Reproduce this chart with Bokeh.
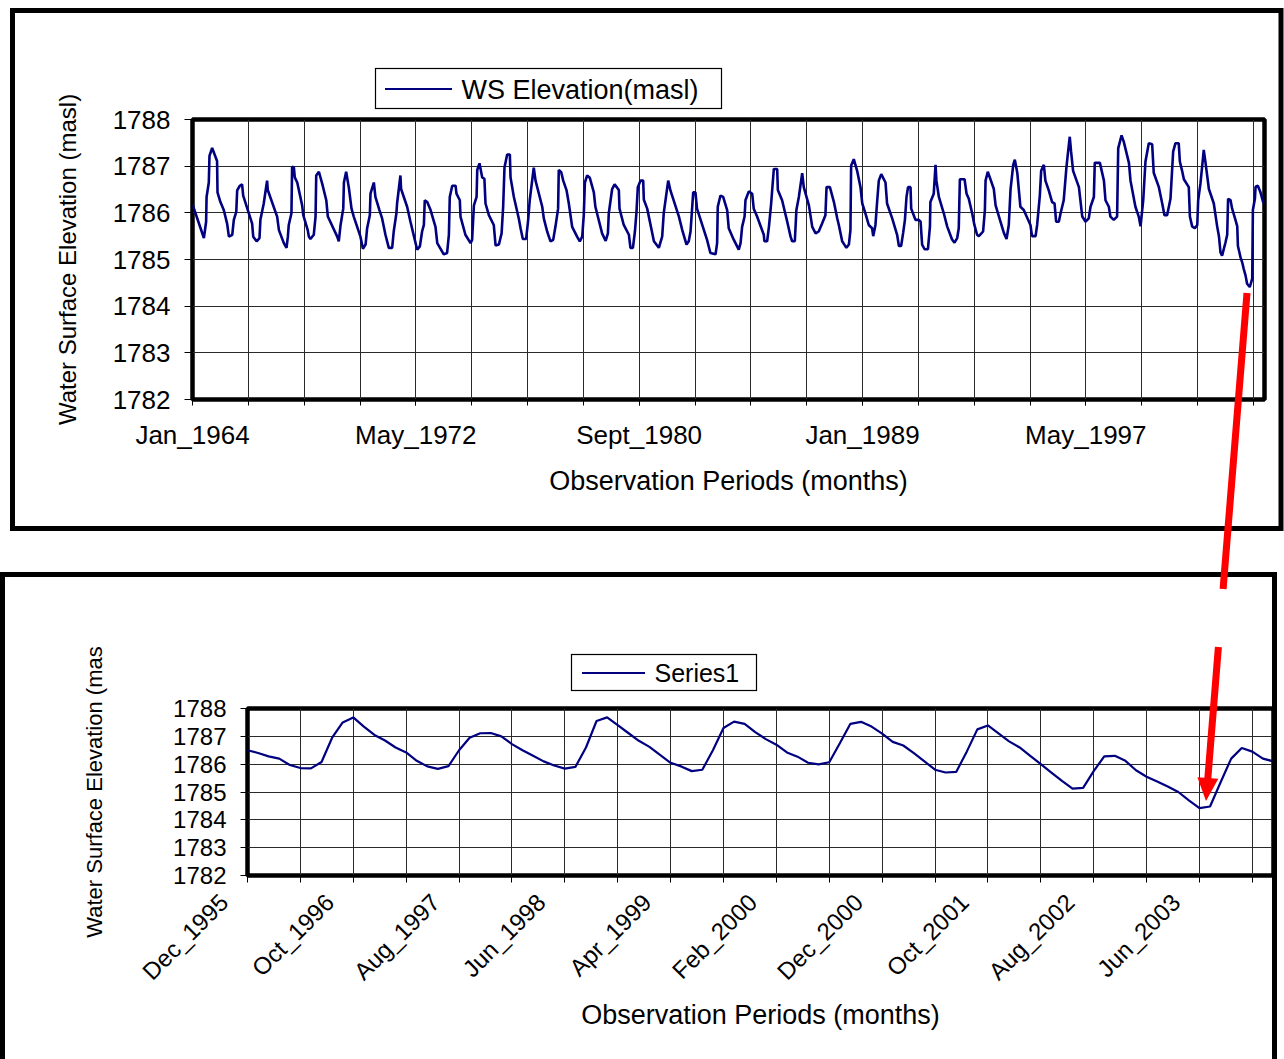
import math
from bokeh.plotting import figure
from bokeh.models import Range1d, FixedTicker, Div
from bokeh.embed import file_html
from bokeh.resources import INLINE

# ------------------------------------------------------------------ data
# Top chart: monthly water-surface elevation, Jan 1964 .. Jan 2004
# (month index from Jan 1964, elevation in masl) read at the turning points
top_month = [
    0.0, 5.1, 6.1, 6.3, 7.3, 7.6, 8.8, 11.0, 11.2, 12.5, 14.0, 15.5, 16.3, 17.8, 18.5, 19.6,
    20.0, 21.2, 22.2, 22.7, 26.7, 27.2, 28.7, 30.0, 30.4, 31.9, 33.4, 33.7, 37.9, 38.7, 40.9,
    42.1, 42.7, 43.1, 44.3, 44.6, 45.4, 45.8, 46.9, 49.1, 49.6, 51.6, 52.1, 52.8, 54.3, 55.1,
    55.4, 56.6, 58.1, 59.9, 60.6, 64.8, 65.5, 66.3, 67.5, 67.8, 68.8, 70.0, 71.2, 72.2, 75.2,
    76.3, 77.5, 78.2, 79.4, 79.7, 81.2, 81.9, 83.7, 84.9, 86.4, 87.9, 89.4, 90.1, 91.3, 91.6,
    93.1, 93.4, 96.1, 97.6, 100.6, 101.8, 102.8, 103.6, 104.0, 105.1, 106.6, 108.8, 109.6,
    112.5, 114.0, 114.8, 115.2, 116.3, 117.8, 118.2, 119.7, 120.0, 122.2, 124.5, 125.2, 126.0,
    127.2, 127.5, 128.5, 129.7, 130.7, 131.2, 132.7, 134.9, 135.7, 137.2, 138.4, 139.1, 139.7,
    140.9, 142.1, 142.4, 143.9, 146.1, 146.9, 147.9, 149.4, 150.3, 151.0, 152.8, 153.6, 156.6,
    157.3, 158.8, 160.3, 161.5, 162.5, 163.7, 164.0, 165.1, 166.0, 167.5, 168.5, 170.0, 172.2,
    173.4, 174.5, 175.2, 175.7, 176.7, 177.9, 179.7, 180.4, 183.4, 185.0, 186.0, 186.4, 187.9,
    189.0, 190.9, 191.2, 193.1, 195.4, 196.1, 197.2, 198.1, 198.8, 199.4, 200.6, 201.8, 202.1,
    203.6, 206.6, 208.8, 210.3, 211.0, 213.0, 214.0, 217.8, 219.3, 221.2, 222.2, 223.0, 224.2,
    225.2, 225.9, 230.4, 231.9, 234.2, 234.9, 235.2, 236.4, 237.6, 239.4, 240.1, 242.4, 244.6,
    245.4, 246.1, 247.2, 247.6, 249.1, 250.6, 251.3, 252.8, 255.8, 256.1, 257.3, 258.1, 259.1,
    260.3, 261.8, 262.1, 264.0, 266.3, 267.8, 268.5, 269.7, 270.4, 271.5, 273.0, 273.7, 276.0,
    277.5, 279.0, 280.4, 281.9, 283.4, 283.9, 285.4, 287.2, 288.7, 289.4, 290.9, 292.8, 293.9,
    294.6, 294.9, 296.1, 297.6, 299.1, 299.9, 301.3, 302.8, 304.3, 304.8, 305.8, 306.6, 307.3,
    308.4, 310.3, 311.0, 313.3, 315.5, 316.3, 317.3, 318.2, 319.0, 319.7, 320.4, 321.5, 321.8,
    323.7, 325.2, 326.0, 326.7, 327.8, 329.3, 330.2, 330.4, 331.9, 332.7, 333.1, 334.2, 336.4,
    337.9, 340.1, 341.2, 342.4, 343.1, 343.6, 345.7, 346.6, 347.6, 349.1, 350.1, 351.3, 352.1,
    354.0, 354.8, 355.1, 356.1, 357.0, 358.8, 359.6, 363.3, 364.5, 365.5, 366.3, 367.5, 368.2,
    369.3, 370.7, 372.2, 375.2, 375.9, 377.5, 378.2, 379.4, 380.0, 381.2, 381.9, 383.4, 384.9,
    386.0, 386.7, 387.9, 388.7, 390.1, 391.3, 391.9, 392.8, 393.4, 394.3, 396.9, 398.4, 399.9,
    401.3, 402.1, 403.6, 404.0, 406.3, 408.1, 408.8, 410.3, 411.0, 412.5, 414.0, 414.5, 416.0,
    417.0, 419.3, 420.0, 422.2, 423.7, 424.5, 425.7, 426.7, 428.2, 429.7, 430.4, 432.7, 434.2,
    435.2, 436.4, 437.9, 439.1, 440.1, 441.6, 442.1, 443.1, 443.9, 446.1, 446.6, 447.6, 448.8,
    449.9, 450.3, 451.3, 452.1, 452.8, 453.6, 455.1, 457.3, 458.8, 459.6, 460.3, 461.0, 462.5,
    463.3, 463.7, 464.8, 465.5, 467.0, 467.8, 468.1, 469.3, 470.0, 470.7, 471.5, 472.2, 473.4,
    474.5, 474.8, 475.7, 476.0, 477.0, 478.2, 479.4, 480.0,
]
top_elev = [
    1786.18, 1785.46, 1785.81, 1786.34, 1786.65, 1787.22, 1787.39, 1787.11, 1786.44, 1786.23,
    1786.06, 1785.77, 1785.49, 1785.53, 1785.85, 1786.02, 1786.48, 1786.58, 1786.61, 1786.37,
    1785.77, 1785.49, 1785.39, 1785.46, 1785.85, 1786.20, 1786.69, 1786.49, 1785.92, 1785.63,
    1785.35, 1785.25, 1785.49, 1785.74, 1785.99, 1786.99, 1786.97, 1786.76, 1786.65, 1786.16,
    1785.95, 1785.63, 1785.49, 1785.44, 1785.53, 1785.92, 1786.80, 1786.88, 1786.62, 1786.27,
    1785.92, 1785.49, 1785.39, 1785.74, 1786.09, 1786.65, 1786.88, 1786.54, 1786.09, 1785.92,
    1785.49, 1785.23, 1785.32, 1785.67, 1785.95, 1786.41, 1786.65, 1786.34, 1786.06, 1785.88,
    1785.53, 1785.25, 1785.25, 1785.60, 1785.99, 1786.20, 1786.80, 1786.51, 1786.13, 1785.81,
    1785.21, 1785.28, 1785.60, 1785.74, 1786.27, 1786.23, 1786.06, 1785.70, 1785.35, 1785.11,
    1785.14, 1785.53, 1786.34, 1786.58, 1786.58, 1786.41, 1786.27, 1785.92, 1785.53, 1785.35,
    1785.42, 1786.16, 1786.34, 1786.92, 1787.06, 1786.76, 1786.73, 1786.20, 1785.95, 1785.74,
    1785.30, 1785.32, 1785.56, 1786.13, 1786.97, 1787.25, 1787.25, 1786.76, 1786.34, 1785.88,
    1785.67, 1785.44, 1785.44, 1785.85, 1786.27, 1786.97, 1786.69, 1786.13, 1785.88, 1785.60,
    1785.39, 1785.42, 1785.70, 1786.09, 1786.92, 1786.87, 1786.69, 1786.48, 1786.20, 1785.70,
    1785.49, 1785.39, 1785.49, 1785.95, 1786.65, 1786.80, 1786.75, 1786.44, 1786.13, 1785.56,
    1785.40, 1785.56, 1785.99, 1786.51, 1786.61, 1786.49, 1786.09, 1785.74, 1785.53, 1785.25,
    1785.25, 1785.60, 1786.02, 1786.55, 1786.69, 1786.69, 1786.28, 1786.09, 1785.39, 1785.25,
    1785.49, 1785.99, 1786.69, 1786.48, 1785.92, 1785.63, 1785.32, 1785.39, 1785.60, 1786.44,
    1786.44, 1786.09, 1785.42, 1785.14, 1785.11, 1785.35, 1786.13, 1786.37, 1786.34, 1786.06,
    1785.67, 1785.42, 1785.21, 1785.35, 1785.70, 1785.92, 1786.27, 1786.46, 1786.41, 1786.09,
    1785.92, 1785.53, 1785.39, 1785.39, 1785.70, 1786.20, 1786.94, 1786.94, 1786.49, 1786.27,
    1785.81, 1785.49, 1785.39, 1785.39, 1786.06, 1786.34, 1786.85, 1786.55, 1786.16, 1785.70,
    1785.56, 1785.60, 1785.77, 1785.95, 1786.55, 1786.55, 1786.23, 1785.88, 1785.74, 1785.39,
    1785.25, 1785.32, 1785.63, 1787.01, 1787.15, 1786.90, 1786.55, 1786.20, 1785.99, 1785.74,
    1785.67, 1785.50, 1785.74, 1786.27, 1786.69, 1786.83, 1786.65, 1786.20, 1785.88, 1785.53,
    1785.29, 1785.29, 1785.57, 1785.85, 1786.34, 1786.55, 1786.55, 1786.09, 1785.85, 1785.85,
    1785.81, 1785.32, 1785.22, 1785.22, 1785.71, 1786.23, 1786.41, 1787.03, 1786.69, 1786.34,
    1785.99, 1785.71, 1785.43, 1785.36, 1785.46, 1785.67, 1786.72, 1786.72, 1786.41, 1786.30,
    1785.99, 1785.74, 1785.53, 1785.50, 1785.60, 1786.06, 1786.69, 1786.88, 1786.76, 1786.51,
    1786.16, 1785.57, 1785.44, 1785.74, 1786.51, 1787.03, 1787.14, 1786.86, 1786.13, 1786.06,
    1785.74, 1785.50, 1785.50, 1785.74, 1786.37, 1786.90, 1787.03, 1786.69, 1786.48, 1786.23,
    1786.20, 1785.81, 1785.81, 1785.99, 1786.27, 1786.97, 1787.24, 1787.63, 1787.31, 1786.90,
    1786.55, 1785.92, 1785.81, 1785.88, 1786.13, 1786.34, 1787.07, 1787.07, 1786.69, 1786.27,
    1786.13, 1785.92, 1785.85, 1785.92, 1787.38, 1787.66, 1787.52, 1787.07, 1786.69, 1786.13,
    1785.92, 1785.71, 1786.27, 1787.10, 1787.49, 1787.47, 1786.86, 1786.55, 1786.20, 1785.95,
    1785.95, 1786.30, 1787.31, 1787.49, 1787.49, 1787.10, 1786.90, 1786.72, 1786.55, 1785.92,
    1785.71, 1785.67, 1785.74, 1786.27, 1786.62, 1787.00, 1787.35, 1787.07, 1786.51, 1786.20,
    1785.71, 1785.50, 1785.15, 1785.08, 1785.36, 1785.53, 1786.30, 1786.27, 1786.09, 1785.85,
    1785.71, 1785.29, 1785.04, 1784.94, 1784.80, 1784.66, 1784.48, 1784.41, 1784.59, 1786.06,
    1786.30, 1786.56, 1786.58, 1786.44, 1786.23, 1786.20,
]
top_tick_pos = [0, 100, 200, 300, 400]
top_tick_labels = ["Jan_1964", "May_1972", "Sept_1980", "Jan_1989", "May_1997"]
top_month_count = 480
top_series_name = "WS Elevation(masl)"

# Bottom chart: monthly series, Dec 1995 .. Jan 2004 (month index from Dec 1995)
bottom_elev = [
    1786.50, 1786.40, 1786.28, 1786.20, 1785.97, 1785.86, 1785.85, 1786.08, 1786.95, 1787.50,
    1787.68, 1787.35, 1787.05, 1786.85, 1786.60, 1786.42, 1786.12, 1785.92, 1785.83, 1785.93,
    1786.50, 1786.95, 1787.11, 1787.12, 1787.00, 1786.72, 1786.50, 1786.30, 1786.10, 1785.95,
    1785.84, 1785.90, 1786.60, 1787.55, 1787.68, 1787.40, 1787.12, 1786.84, 1786.62, 1786.33,
    1786.05, 1785.92, 1785.75, 1785.80, 1786.50, 1787.30, 1787.53, 1787.45, 1787.15, 1786.90,
    1786.70, 1786.42, 1786.27, 1786.05, 1785.99, 1786.07, 1786.75, 1787.45, 1787.52, 1787.35,
    1787.10, 1786.80, 1786.67, 1786.40, 1786.10, 1785.80, 1785.70, 1785.72, 1786.45, 1787.25,
    1787.39, 1787.11, 1786.82, 1786.60, 1786.30, 1786.00, 1785.70, 1785.40, 1785.12, 1785.15,
    1785.75, 1786.28, 1786.30, 1786.12, 1785.78, 1785.55, 1785.38, 1785.20, 1785.00, 1784.70,
    1784.42, 1784.48, 1785.35, 1786.20, 1786.58, 1786.45, 1786.20, 1786.10,
]
bottom_tick_pos = [0, 10, 20, 30, 40, 50, 60, 70, 80, 90]
bottom_tick_labels = ["Dec_1995", "Oct_1996", "Aug_1997", "Jun_1998", "Apr_1999",
                      "Feb_2000", "Dec_2000", "Oct_2001", "Aug_2002", "Jun_2003"]
bottom_series_name = "Series1"

y_ticks = [1782, 1783, 1784, 1785, 1786, 1787, 1788]

# ------------------------------------------------------------------ style
FONT = "Liberation Sans"
NAVY = "#000080"
GRID = "#2a2a2a"
NBSP = "\u00a0"

# layout in page pixels
PAGE_W = 1284
TOP_H = 551
T_L, T_R, T_T, T_B = 192, 20, 119, 152
BOT_H = 506
B_L, B_R, B_T, B_B = 247, 11, 157, 182


def make_fig(h, l, r, t, b, xr, yr):
    p = figure(width=PAGE_W, height=h, x_range=xr, y_range=yr,
               output_backend="svg", toolbar_location=None,
               min_border_left=l, min_border_right=r,
               min_border_top=t, min_border_bottom=b)
    p.background_fill_color = "white"
    p.border_fill_color = "white"
    p.outline_line_color = "black"
    p.outline_line_width = 4.5
    for ax in p.axis:
        ax.axis_line_color = None
        ax.major_tick_line_color = "black"
        ax.minor_tick_line_color = "black"
        ax.major_tick_in = 0
        ax.minor_tick_in = 0
        ax.major_label_text_font = FONT
        ax.axis_label_text_font = FONT
        ax.axis_label_text_font_style = "normal"
        ax.major_label_text_color = "black"
        ax.axis_label_text_color = "black"
    p.xgrid.grid_line_color = GRID
    p.ygrid.grid_line_color = GRID
    p.xgrid.grid_line_width = 1
    p.ygrid.grid_line_width = 1
    p.title.text_font = FONT
    p.title.text_font_style = "normal"
    p.title.text_color = "black"
    p.title.align = "left"
    return p


# ------------------------------------------------------------------ top chart
top = make_fig(TOP_H, T_L, T_R, T_T, T_B,
               Range1d(0, top_month_count), Range1d(1782, 1788))
top.line(top_month, top_elev, line_color=NAVY, line_width=2.6)

top_minor = list(range(25, top_month_count, 25))
xa = top.xaxis[0]
xa.ticker = FixedTicker(ticks=top_tick_pos, minor_ticks=top_minor)
xa.major_label_overrides = {pos: lab for pos, lab in zip(top_tick_pos, top_tick_labels)}
xa.major_tick_out = 6
xa.minor_tick_out = 6
xa.major_label_text_font_size = "26px"
xa.major_label_standoff = 14
xa.axis_label = "Observation Periods (months)"
xa.axis_label_text_font_size = "27px"
xa.axis_label_standoff = 13

ya = top.yaxis[0]
ya.ticker = FixedTicker(ticks=y_ticks, minor_ticks=[])
ya.major_tick_out = 8
ya.major_label_text_font_size = "26px"
ya.major_label_standoff = 14
ya.axis_label = "Water Surface Elevation (masl)"
ya.axis_label_text_font_size = "24px"
ya.axis_label_standoff = 29

top.xgrid.ticker = FixedTicker(ticks=top_minor)
top.ygrid.ticker = FixedTicker(ticks=y_ticks[1:-1])

# series key text (legend label); the key box and line sample are drawn in the overlay
top.title.text = top_series_name
top.title.text_font_size = "27px"
top.title.offset = 269
top.title.standoff = 30

# ------------------------------------------------------------------ bottom chart
n_bot = len(bottom_elev)
bottom_month = list(range(n_bot))
bot = make_fig(BOT_H, B_L, B_R, B_T, B_B,
               Range1d(0, n_bot - 1), Range1d(1782, 1788))
bot.line(bottom_month, bottom_elev, line_color=NAVY, line_width=2.2)

bot_minor = list(range(5, n_bot, 10))
xb = bot.xaxis[0]
xb.ticker = FixedTicker(ticks=bottom_tick_pos, minor_ticks=bot_minor)
xb.major_label_overrides = {pos: lab + NBSP * 5
                            for pos, lab in zip(bottom_tick_pos, bottom_tick_labels)}
xb.major_tick_out = 7
xb.minor_tick_out = 7
xb.major_label_orientation = math.pi / 4
xb.major_label_text_font_size = "24px"
xb.major_label_standoff = -8
xb.axis_label = "Observation Periods (months)"
xb.axis_label_text_font_size = "27px"
xb.axis_label_standoff = 2

yb = bot.yaxis[0]
yb.ticker = FixedTicker(ticks=y_ticks, minor_ticks=[])
yb.major_tick_out = 7
yb.major_label_text_font_size = "24px"
yb.major_label_standoff = 14
yb.axis_label = "Water Surface Elevation (mas"
yb.axis_label_text_font_size = "22px"
yb.axis_label_standoff = 63

bot.xgrid.ticker = FixedTicker(ticks=list(range(5, n_bot, 5)))
bot.ygrid.ticker = FixedTicker(ticks=y_ticks[1:-1])

bot.title.text = bottom_series_name
bot.title.text_font_size = "25px"
bot.title.offset = 407
bot.title.standoff = 44

# ------------------------------------------------------------------ overlay: panel frames, keys, red arrow
A0 = (1247.0, 293.0)
TIP = (1206.0, 801.0)
dx, dy = TIP[0] - A0[0], TIP[1] - A0[1]
L = math.hypot(dx, dy)
nx, ny = -dy / L, dx / L


def at_y(y):
    return (A0[0] + dx * (y - A0[1]) / dy, y)


def band(y0, y1, half=3.5):
    (xa_, _), (xb_, _) = at_y(y0), at_y(y1)
    return [(xa_ + nx * half, y0 + ny * half), (xb_ + nx * half, y1 + ny * half),
            (xb_ - nx * half, y1 - ny * half), (xa_ - nx * half, y0 - ny * half)]


bx, by = at_y(778)
head = [TIP, (bx + nx * 10.5, by + ny * 10.5), (bx - nx * 10.5, by - ny * 10.5)]


def pts(ps):
    return " ".join(f"{x:.1f},{y:.1f}" for x, y in ps)


svg = (
    '<svg xmlns="http://www.w3.org/2000/svg" width="1284" height="1059" '
    'style="position:fixed;left:0;top:0;z-index:100;pointer-events:none;overflow:visible">'
    '<rect x="12.5" y="10.5" width="1268.5" height="518" fill="none" stroke="black" stroke-width="5"/>'
    '<rect x="2.5" y="574.5" width="1272" height="600" fill="none" stroke="black" stroke-width="5"/>'
    '<rect x="375.5" y="68.5" width="346" height="40" fill="none" stroke="black" stroke-width="1.2"/>'
    f'<line x1="385" y1="89" x2="452" y2="89" stroke="{NAVY}" stroke-width="2.2"/>'
    '<rect x="571.5" y="654.5" width="185" height="36" fill="none" stroke="black" stroke-width="1.2"/>'
    f'<line x1="582" y1="673" x2="645" y2="673" stroke="{NAVY}" stroke-width="2"/>'
    f'<polygon points="{pts(band(293, 589))}" fill="#ff0000"/>'
    f'<polygon points="{pts(band(647, 780))}" fill="#ff0000"/>'
    f'<polygon points="{pts(head)}" fill="#ff0000"/>'
    '</svg>'
)
overlay = Div(text=svg, width=1, height=1,
              styles={"position": "absolute", "left": "0px", "top": "0px",
                      "z-index": "100", "pointer-events": "none", "overflow": "visible"})

open("out.html", "w").write(file_html([top, bot, overlay], INLINE))
